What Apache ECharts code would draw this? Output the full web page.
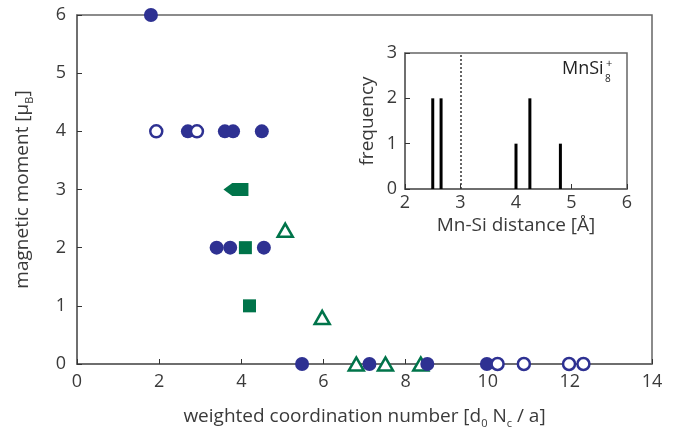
<!DOCTYPE html>
<html><head><meta charset="utf-8">
<script src="https://cdn.jsdelivr.net/npm/echarts@6/dist/echarts.min.js"></script>
<style>html,body{margin:0;padding:0;background:#fff}#c{width:692px;height:434px}</style>
</head><body><div id="c"></div>
<script>
// Main panel data: [weighted coordination number, magnetic moment]
const blueFilled = [[1.8,6],[2.7,4],[3.6,4],[3.8,4],[4.5,4],[3.4,2],[3.73,2],[4.55,2],[5.48,0],[7.12,0],[8.53,0],[9.98,0]];
const blueOpen = [[1.93,4],[2.92,4],[10.24,0],[10.88,0],[11.98,0],[12.33,0]];
const greenSquare = [[4.1,2],[4.2,1]];
const greenArrow = [[3.87,3]];
const greenTriangle = [[5.07,2.3],[5.97,0.8],[6.8,0],[7.51,0],[8.37,0]];
// Inset histogram: [Mn-Si distance, frequency]
const insetBars = [[2.5,2],[2.65,2],[4.0,1],[4.25,2],[4.8,1]];
const cutoff = 3;
const xTicksMain = [0,2,4,6,8,10,12,14];
const yTicksMain = [0,1,2,3,4,5,6];

const BLUE = '#2e3192', GREEN = '#00744a', AX = '#666', TXT = '#3a3a3a';
const FONT = 'Open Sans';
const chart = echarts.init(document.getElementById('c'), null, {renderer:'canvas'});
const axisCommon = {
  axisLine:{show:true, lineStyle:{color:AX, width:1.5}},
  axisTick:{show:true, inside:true, length:5, lineStyle:{color:'#333', width:1}},
  splitLine:{show:false}
};
const richName = {a:{fontFamily:FONT,fontSize:19,color:TXT,lineHeight:24},s:{fontFamily:FONT,fontSize:11,color:TXT,lineHeight:12,verticalAlign:'bottom'}};
chart.setOption({
  animation:false,
  grid:[
    {left:77, right:40, top:15, bottom:70, show:true, borderColor:AX, borderWidth:1.5, backgroundColor:'transparent'},
    {left:405, right:65, top:53, bottom:245, show:true, borderColor:AX, borderWidth:1.5, backgroundColor:'#fff'}
  ],
  xAxis:[
    Object.assign({}, axisCommon, {gridIndex:0, type:'value', min:xTicksMain[0], max:xTicksMain[xTicksMain.length-1], interval:2,
      name:'{a|weighted coordination number [d}{s|0}{a| N}{s|c}{a| / a]}', nameLocation:'middle', nameGap:41,
      nameTextStyle:{fontFamily:FONT, rich:richName},
      axisLabel:{color:TXT, fontFamily:FONT, fontSize:18, margin:9}}),
    Object.assign({}, axisCommon, {gridIndex:1, type:'value', min:2, max:6, interval:1,
      name:'Mn-Si distance [Å]', nameLocation:'middle', nameGap:27,
      nameTextStyle:{fontFamily:FONT, fontSize:19, color:TXT},
      axisLabel:{color:TXT, fontFamily:FONT, fontSize:18, margin:5}})
  ],
  yAxis:[
    Object.assign({}, axisCommon, {gridIndex:0, type:'value', min:yTicksMain[0], max:yTicksMain[yTicksMain.length-1], interval:1,
      name:'{a|magnetic moment [μ}{s|B}{a|]}', nameLocation:'middle', nameGap:42, nameRotate:90,
      nameTextStyle:{fontFamily:FONT, rich:richName},
      axisLabel:{color:TXT, fontFamily:FONT, fontSize:18, margin:11}}),
    Object.assign({}, axisCommon, {gridIndex:1, type:'value', min:0, max:3, interval:1,
      name:'frequency', nameLocation:'middle', nameGap:28, nameRotate:90,
      nameTextStyle:{fontFamily:FONT, fontSize:19, color:TXT},
      axisLabel:{color:TXT, fontFamily:FONT, fontSize:18, margin:8}})
  ],
  series:[
    {type:'scatter', xAxisIndex:0, yAxisIndex:0, data:greenTriangle, symbol:'triangle', symbolSize:[15,13],
      itemStyle:{color:'#fff', opacity:1, borderColor:GREEN, borderWidth:2.5}, clip:false, z:3},
    {type:'scatter', xAxisIndex:0, yAxisIndex:0, data:blueFilled, symbol:'circle', symbolSize:14,
      itemStyle:{color:BLUE, opacity:1}, clip:false, z:4},
    {type:'scatter', xAxisIndex:0, yAxisIndex:0, data:blueOpen, symbol:'circle', symbolSize:12,
      itemStyle:{color:'#fff', opacity:1, borderColor:BLUE, borderWidth:2.5}, clip:false, z:5},
    {type:'scatter', xAxisIndex:0, yAxisIndex:0, data:greenSquare, symbol:'rect', symbolSize:13,
      itemStyle:{color:GREEN, opacity:1}, clip:false, z:6},
    {type:'scatter', xAxisIndex:0, yAxisIndex:0, data:greenArrow, symbol:'path://M0,6 L6,0 L17,0 L17,12 L6,12 Z', symbolSize:[25,13], symbolKeepAspect:false,
      itemStyle:{color:GREEN, opacity:1}, clip:false, z:6},
    {type:'bar', xAxisIndex:1, yAxisIndex:1, data:insetBars, barWidth:3, itemStyle:{color:'#000'}, z:5,
      markLine:{silent:true, symbol:'none', label:{show:false}, lineStyle:{color:'#333', type:[2,2], width:1.5}, data:[{xAxis:cutoff}]}}
  ],
  graphic:[
    {type:'text', left:562, top:60, style:{text:'MnSi', fontFamily:FONT, fontSize:18, fill:'#222'}},
    {type:'text', left:605, top:74, style:{text:'8', fontFamily:FONT, fontSize:10, fill:'#222'}},
    {type:'text', left:606, top:58, style:{text:'+', fontFamily:FONT, fontSize:11, fill:'#222'}}
  ]
});
</script></body></html>
